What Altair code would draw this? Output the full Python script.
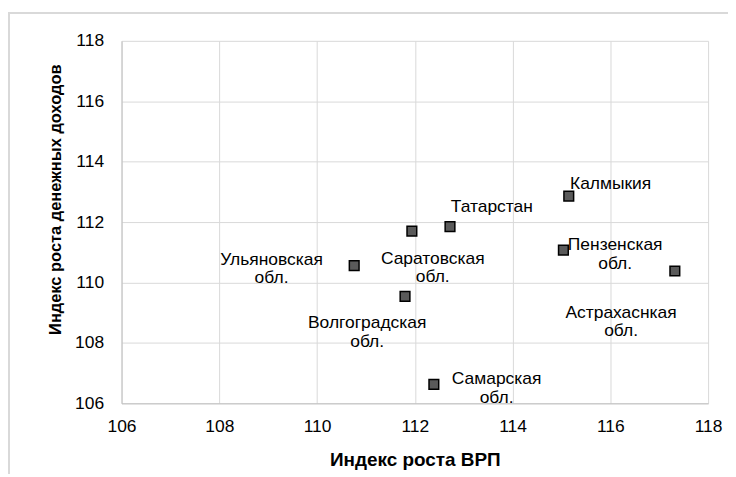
import altair as alt
import pandas as pd

# --- data ---
regions = ["Калмыкия", "Татарстан", "Пензенская обл.", "Астрахаснкая обл.",
           "Ульяновская обл.", "Саратовская обл.", "Волгоградская обл.", "Самарская обл."]
labels = ["Калмыкия", "Татарстан", "Пензенская\nобл.", "Астрахаснкая\nобл.",
          "Ульяновская\nобл.", "Саратовская\nобл.", "Волгоградская\nобл.", "Самарская\nобл."]
grp_index = [115.15, 112.72, 115.04, 117.32, 110.76, 111.94, 111.80, 112.39]
income_index = [112.86, 111.85, 111.07, 110.38, 110.56, 111.70, 109.54, 106.63]
ticks = [106, 108, 110, 112, 114, 116, 118]

df = pd.DataFrame({"region": regions, "label": labels, "x": grp_index, "y": income_index})

# label offsets (pixels) relative to each point: styling only
offsets = {
    "Калмыкия": (42, -12),
    "Татарстан": (42, -20),
    "Пензенская обл.": (52, -5),
    "Астрахаснкая обл.": (-54, 42),
    "Ульяновская обл.": (-83, -6),
    "Саратовская обл.": (21, 28),
    "Волгоградская обл.": (-38, 27),
    "Самарская обл.": (63, -5),
}

FONT = "Liberation Sans"

x_axis = alt.Axis(values=ticks, grid=True, ticks=False, tickSize=0, labelPadding=14,
                  title="Индекс роста ВРП", titleFontSize=19, titleFontWeight="bold",
                  titleFont=FONT, titleY=56, titleBaseline="middle", titleColor="#000000",
                  labelFont=FONT, labelFontSize=17.5, labelColor="#000000",
                  domainColor="#bfbfbf", gridColor="#d9d9d9", labelFlush=False)
y_axis = alt.Axis(values=ticks, grid=True, ticks=False, tickSize=0, labelPadding=18,
                  title="Индекс роста денежных доходов", titleFontSize=16.5,
                  titleFontWeight="bold", titleFont=FONT, titleX=-66, titleY=159,
                  titleBaseline="middle", titleAlign="center", titleColor="#000000",
                  labelFont=FONT, labelFontSize=17.5, labelColor="#000000",
                  domainColor="#bfbfbf", gridColor="#d9d9d9", labelFlush=False)

xs = alt.Scale(domain=[106, 118], nice=False, zero=False)
ys = alt.Scale(domain=[106, 118], nice=False, zero=False)

base = alt.Chart(df)

points = base.mark_point(shape="square", filled=True, size=95, fill="#5a5a5a",
                         stroke="#000000", strokeWidth=1.5, opacity=1).encode(
    x=alt.X("x:Q", scale=xs, axis=x_axis),
    y=alt.Y("y:Q", scale=ys, axis=y_axis),
)

text_layers = []
for name in regions:
    dx, dy = offsets[name]
    t = base.transform_filter(alt.datum.region == name).mark_text(
        font=FONT, fontSize=17.5, color="#000000", align="center", baseline="middle",
        lineBreak="\n", lineHeight=18.5, dx=dx, dy=dy
    ).encode(
        x=alt.X("x:Q", scale=xs, axis=x_axis),
        y=alt.Y("y:Q", scale=ys, axis=y_axis),
        text="label:N",
    )
    text_layers.append(t)

frame_v = base.transform_filter(alt.datum.region == regions[0]).mark_rule(
    color="#d9d9d9", strokeWidth=2).encode(
    x=alt.value(-113), y=alt.value(-28), y2=alt.value(440))
frame_h = base.transform_filter(alt.datum.region == regions[0]).mark_rule(
    color="#d9d9d9", strokeWidth=2).encode(
    x=alt.value(-114), x2=alt.value(700), y=alt.value(-28))

chart = alt.layer(frame_v, frame_h, points, *text_layers).properties(
    width=589, height=364,
    padding={"left": 114, "top": 32, "right": 20, "bottom": 70},
    autosize=alt.AutoSizeParams(type="none"),
    background="#ffffff",
).configure_view(strokeWidth=0)

chart.save("out.html", embed_options={"renderer": "svg", "actions": False})
